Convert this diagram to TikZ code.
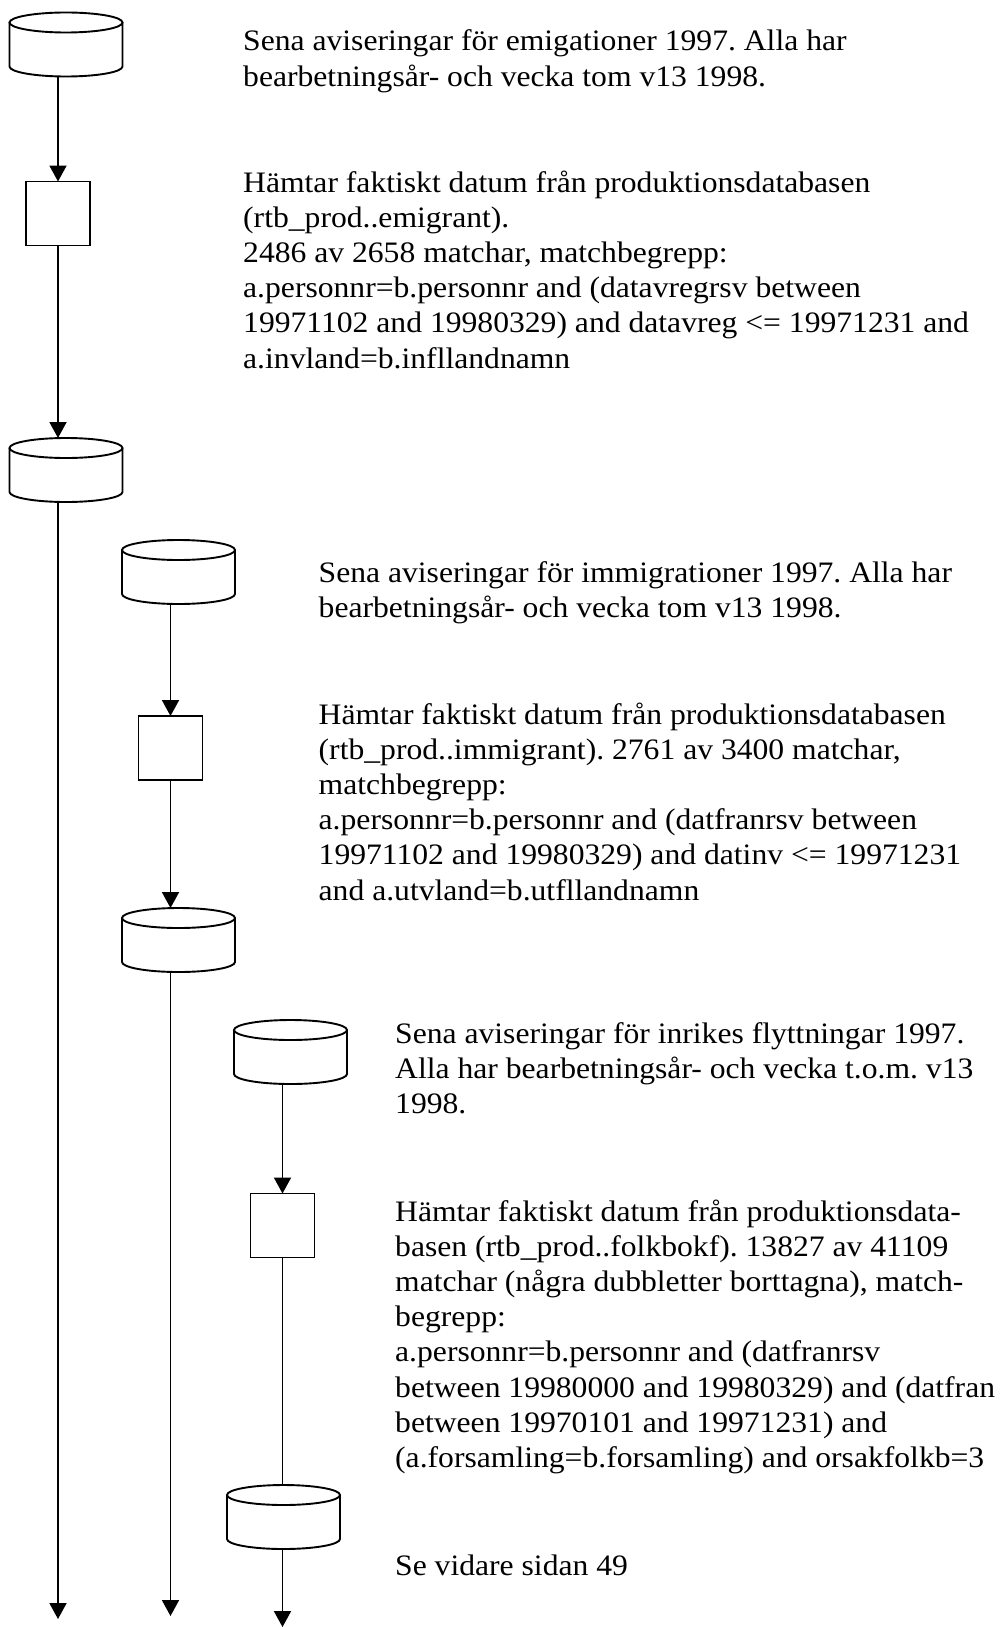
\documentclass[tikz,border=0pt]{standalone}
\usepackage{fontspec}
\setmainfont{Liberation Serif}[FakeStretch=1.065]
\usetikzlibrary{arrows.meta}
\tikzset{
  shp/.style={line width=1.9pt},
  arr/.style={shp, -{Triangle[width=17pt,length=16pt]}},
  proc/.style={draw, shp, minimum width=64pt, minimum height=64pt, inner sep=0pt, outer sep=0pt},
  dbox/.style={minimum width=113pt, minimum height=64pt, inner sep=0pt, outer sep=0pt},
  txt/.style={anchor=base west, inner sep=0pt, font=\fontsize{29.7}{35.2}\selectfont}
}
\newcommand{\dbdraw}[1]{%
  \draw[shp] ([yshift=-10pt]#1.north) ellipse [x radius=56.5pt, y radius=10pt];
  \draw[shp] ([yshift=-10pt]#1.north west) -- ([yshift=10pt]#1.south west)
     arc[start angle=180, end angle=360, x radius=56.5pt, y radius=10pt]
     -- ([yshift=-10pt]#1.north east);
}
\frenchspacing
\begin{document}
\begin{tikzpicture}[x=1pt,y=1pt]
\useasboundingbox (0,0) rectangle (1001,-1627);
% column 1
\node[dbox] (c1) at (66,-44.5) {};
\dbdraw{c1}
\node[proc] (b1) at (58,-213.5) {};
\node[dbox] (c2) at (66,-470) {};
\dbdraw{c2}
\coordinate (e1) at (58,-1619);
% column 2
\node[dbox] (c3) at (178.5,-572) {};
\dbdraw{c3}
\node[proc] (b2) at (170.5,-748) {};
\node[dbox] (c4) at (178.5,-940) {};
\dbdraw{c4}
\coordinate (e2) at (170.5,-1616);
% column 3
\node[dbox] (c5) at (290.5,-1052) {};
\dbdraw{c5}
\node[proc] (b3) at (282.5,-1225.5) {};
\node[dbox] (c6) at (283.5,-1517) {};
\dbdraw{c6}
\coordinate (e3) at (282.5,-1627);
% connectors
\draw[arr] (c1.south -| b1.north) -- (b1.north);
\draw[arr] (b1.south) -- (b1.south |- c2.north);
\draw[arr] (c2.south -| b1.south) -- (e1);
\draw[arr] (c3.south -| b2.north) -- (b2.north);
\draw[arr] (b2.south) -- (b2.south |- c4.north);
\draw[arr] (c4.south -| b2.south) -- (e2);
\draw[arr] (c5.south -| b3.north) -- (b3.north);
\draw[shp] (b3.south) -- (b3.south |- c6.north);
\draw[arr] (c6.south -| b3.south) -- (e3);
% texts
\node[txt] (t1) at (243,-51) {\begin{tabular}[t]{@{}l@{}}Sena aviseringar för emigationer 1997. Alla har\\ bearbetningsår- och vecka tom v13 1998.\end{tabular}};
\node[txt] (t2) at (243,-192) {\begin{tabular}[t]{@{}l@{}}Hämtar faktiskt datum från produktionsdatabasen\\ (rtb\_prod..emigrant).\\ 2486 av 2658 matchar, matchbegrepp:\\ a.personnr=b.personnr and (datavregrsv between\\ 19971102 and 19980329) and datavreg <= 19971231 and\\ a.invland=b.infllandnamn\end{tabular}};
\node[txt] (t3) at (318.5,-582) {\begin{tabular}[t]{@{}l@{}}Sena aviseringar för immigrationer 1997. Alla har\\ bearbetningsår- och vecka tom v13 1998.\end{tabular}};
\node[txt] (t4) at (318.5,-724) {\begin{tabular}[t]{@{}l@{}}Hämtar faktiskt datum från produktionsdatabasen\\ (rtb\_prod..immigrant). 2761 av 3400 matchar,\\ matchbegrepp:\\ a.personnr=b.personnr and (datfranrsv between\\ 19971102 and 19980329) and datinv <= 19971231\\ and a.utvland=b.utfllandnamn\end{tabular}};
\node[txt] (t5) at (395,-1043) {\begin{tabular}[t]{@{}l@{}}Sena aviseringar för inrikes flyttningar 1997.\\ Alla har bearbetningsår- och vecka t.o.m. v13\\ 1998.\end{tabular}};
\node[txt] (t6) at (395,-1221) {\begin{tabular}[t]{@{}l@{}}Hämtar faktiskt datum från produktionsdata-\\ basen (rtb\_prod..folkbokf). 13827 av 41109\\ matchar (några dubbletter borttagna), match-\\ begrepp:\\ a.personnr=b.personnr and (datfranrsv\\ between 19980000 and 19980329) and (datfran\\ between 19970101 and 19971231) and\\ (a.forsamling=b.forsamling) and orsakfolkb=3\end{tabular}};
\node[txt] (t7) at (395,-1575) {Se vidare sidan 49};
\end{tikzpicture}
\end{document}
